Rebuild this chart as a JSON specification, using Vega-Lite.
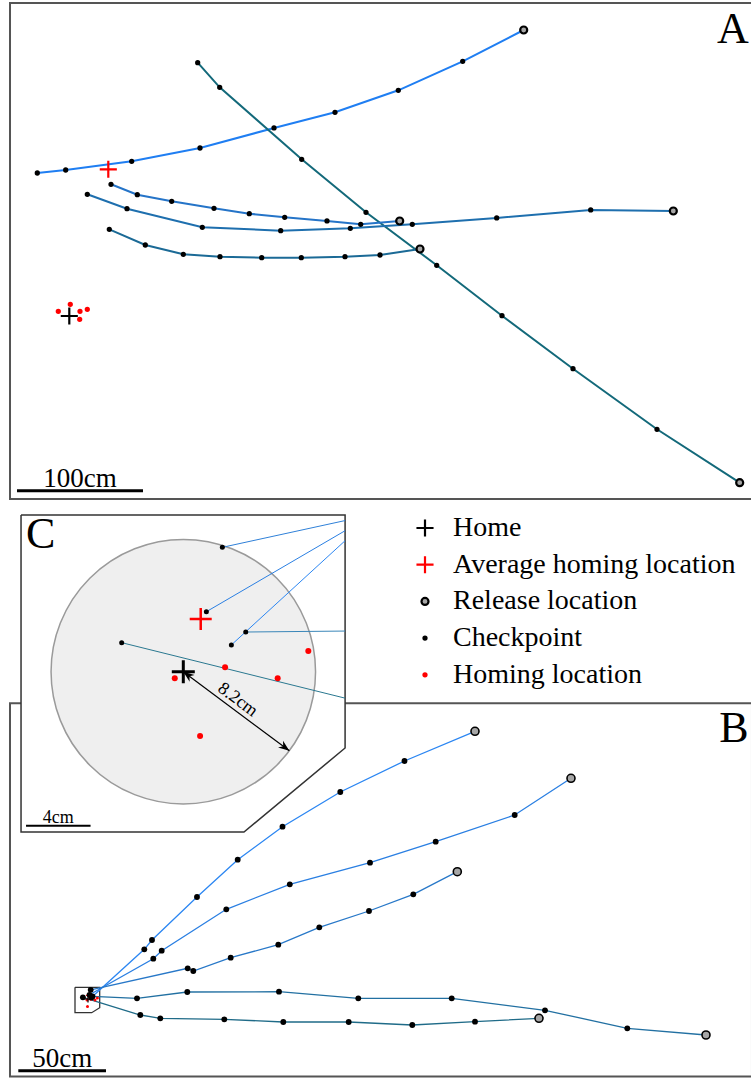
{
  "$schema": "https://vega.github.io/schema/vega-lite/v6.json",
  "width": 751,
  "height": 1078,
  "autosize": {"type": "none"},
  "padding": 0,
  "config": {
    "view": {"stroke": null},
    "text": {"font": "Liberation Serif", "color": "black"},
    "legend": {"padding": 0, "labelFont": "Liberation Serif", "labelFontSize": 28, "labelColor": "black", "labelLimit": 400, "symbolOpacity": 1}
  },
  "resolve": {"scale": {"x": "independent", "y": "independent", "color": "independent"}},
  "datasets": {
    "a_frame": [{"x": -47.06, "x2": 541.83, "y": 248.41, "y2": -145.24}],
    "a_bar": [{"x": -41.51, "x2": 58.49, "y": -138.65}],
    "a_barlabel": [{"x": 8.49, "y": -138.65, "label": "100cm"}],
    "a_letter": [{"x": 526.75, "y": 216.9, "label": "A"}],
    "a_pts": [
      {"traj": "a1", "seq": 0, "x": 360.63, "y": 226.98, "kind": "Release location"},
      {"traj": "a1", "seq": 1, "x": 312.22, "y": 202.14, "kind": "Checkpoint"},
      {"traj": "a1", "seq": 2, "x": 261.11, "y": 179.13, "kind": "Checkpoint"},
      {"traj": "a1", "seq": 3, "x": 210.87, "y": 161.67, "kind": "Checkpoint"},
      {"traj": "a1", "seq": 4, "x": 162.46, "y": 149.21, "kind": "Checkpoint"},
      {"traj": "a1", "seq": 5, "x": 103.73, "y": 133.33, "kind": "Checkpoint"},
      {"traj": "a1", "seq": 6, "x": 49.52, "y": 122.78, "kind": "Checkpoint"},
      {"traj": "a1", "seq": 7, "x": -2.86, "y": 115.87, "kind": "Checkpoint"},
      {"traj": "a1", "seq": 8, "x": -25.4, "y": 113.49, "kind": "Checkpoint"},
      {"traj": "a2", "seq": 0, "x": 532.06, "y": -132.3, "kind": "Release location"},
      {"traj": "a2", "seq": 1, "x": 466.43, "y": -89.92, "kind": "Checkpoint"},
      {"traj": "a2", "seq": 2, "x": 399.76, "y": -41.83, "kind": "Checkpoint"},
      {"traj": "a2", "seq": 3, "x": 343.41, "y": 0.24, "kind": "Checkpoint"},
      {"traj": "a2", "seq": 4, "x": 291.59, "y": 40.24, "kind": "Checkpoint"},
      {"traj": "a2", "seq": 5, "x": 235.48, "y": 82.3, "kind": "Checkpoint"},
      {"traj": "a2", "seq": 6, "x": 184.44, "y": 124.37, "kind": "Checkpoint"},
      {"traj": "a2", "seq": 7, "x": 119.37, "y": 181.51, "kind": "Checkpoint"},
      {"traj": "a2", "seq": 8, "x": 101.9, "y": 201.03, "kind": "Checkpoint"},
      {"traj": "a3", "seq": 0, "x": 262.22, "y": 75.4, "kind": "Release location"},
      {"traj": "a3", "seq": 1, "x": 231.27, "y": 72.78, "kind": "Checkpoint"},
      {"traj": "a3", "seq": 2, "x": 204.52, "y": 75.4, "kind": "Checkpoint"},
      {"traj": "a3", "seq": 3, "x": 170.95, "y": 78.33, "kind": "Checkpoint"},
      {"traj": "a3", "seq": 4, "x": 142.86, "y": 81.19, "kind": "Checkpoint"},
      {"traj": "a3", "seq": 5, "x": 114.84, "y": 85.48, "kind": "Checkpoint"},
      {"traj": "a3", "seq": 6, "x": 81.27, "y": 91.03, "kind": "Checkpoint"},
      {"traj": "a3", "seq": 7, "x": 53.97, "y": 96.27, "kind": "Checkpoint"},
      {"traj": "a3", "seq": 8, "x": 33.1, "y": 104.52, "kind": "Checkpoint"},
      {"traj": "a4", "seq": 0, "x": 479.37, "y": 83.33, "kind": "Release location"},
      {"traj": "a4", "seq": 1, "x": 413.81, "y": 84.13, "kind": "Checkpoint"},
      {"traj": "a4", "seq": 2, "x": 339.21, "y": 77.78, "kind": "Checkpoint"},
      {"traj": "a4", "seq": 3, "x": 272.22, "y": 72.78, "kind": "Checkpoint"},
      {"traj": "a4", "seq": 4, "x": 223.02, "y": 69.6, "kind": "Checkpoint"},
      {"traj": "a4", "seq": 5, "x": 167.78, "y": 67.7, "kind": "Checkpoint"},
      {"traj": "a4", "seq": 6, "x": 105.56, "y": 70.4, "kind": "Checkpoint"},
      {"traj": "a4", "seq": 7, "x": 45.79, "y": 85.16, "kind": "Checkpoint"},
      {"traj": "a4", "seq": 8, "x": 14.29, "y": 96.59, "kind": "Checkpoint"},
      {"traj": "a5", "seq": 0, "x": 278.33, "y": 53.17, "kind": "Release location"},
      {"traj": "a5", "seq": 1, "x": 246.59, "y": 48.41, "kind": "Checkpoint"},
      {"traj": "a5", "seq": 2, "x": 218.81, "y": 47.06, "kind": "Checkpoint"},
      {"traj": "a5", "seq": 3, "x": 184.13, "y": 46.27, "kind": "Checkpoint"},
      {"traj": "a5", "seq": 4, "x": 152.7, "y": 46.27, "kind": "Checkpoint"},
      {"traj": "a5", "seq": 5, "x": 119.6, "y": 47.06, "kind": "Checkpoint"},
      {"traj": "a5", "seq": 6, "x": 90.48, "y": 48.97, "kind": "Checkpoint"},
      {"traj": "a5", "seq": 7, "x": 60.32, "y": 56.35, "kind": "Checkpoint"},
      {"traj": "a5", "seq": 8, "x": 31.75, "y": 68.81, "kind": "Checkpoint"},
      {"traj": null, "seq": null, "x": 0, "y": 0, "kind": "Home"},
      {"traj": null, "seq": null, "x": 30.95, "y": 116.43, "kind": "Average homing location"},
      {"traj": null, "seq": null, "x": -8.73, "y": 3.73, "kind": "Homing location"},
      {"traj": null, "seq": null, "x": 0.79, "y": 9.29, "kind": "Homing location"},
      {"traj": null, "seq": null, "x": 8.49, "y": 3.73, "kind": "Homing location"},
      {"traj": null, "seq": null, "x": 14.29, "y": 5.32, "kind": "Homing location"},
      {"traj": null, "seq": null, "x": 8.25, "y": -2.62, "kind": "Homing location"}
    ],
    "b_frame": [{"x": -44.47, "x2": 378.56, "y": 168.59, "y2": -44.19}],
    "b_boxfill": [
      {"x": -7.41, "y": 6.67, "y2": -7.81},
      {"x": 2.11, "y": 6.67, "y2": -7.81},
      {"x": 6.67, "y": 6.67, "y2": -4.96}
    ],
    "b_box": [
      {"seq": 0, "x": -7.41, "y": 6.67},
      {"seq": 1, "x": 6.67, "y": 6.67},
      {"seq": 2, "x": 6.67, "y": -4.96},
      {"seq": 3, "x": 2.11, "y": -7.81},
      {"seq": 4, "x": -7.41, "y": -7.81},
      {"seq": 5, "x": -7.41, "y": 6.67}
    ],
    "b_bar": [{"x": -39.74, "x2": 10.26, "y": -40.88}],
    "b_barlabel": [{"x": -14.74, "y": -40.88, "label": "50cm"}],
    "b_letter": [{"x": 368.3, "y": 146.7, "label": "B"}],
    "b_pts": [
      {"traj": "b1", "seq": 0, "x": 220.64, "y": 152.62, "kind": "Release location"},
      {"traj": "b1", "seq": 1, "x": 180.44, "y": 135.69, "kind": "Checkpoint"},
      {"traj": "b1", "seq": 2, "x": 143.84, "y": 118.02, "kind": "Checkpoint"},
      {"traj": "b1", "seq": 3, "x": 110.89, "y": 98.23, "kind": "Checkpoint"},
      {"traj": "b1", "seq": 4, "x": 85.35, "y": 79.42, "kind": "Checkpoint"},
      {"traj": "b1", "seq": 5, "x": 62.14, "y": 58.15, "kind": "Checkpoint"},
      {"traj": "b1", "seq": 6, "x": 36.49, "y": 33.64, "kind": "Checkpoint"},
      {"traj": "b1", "seq": 7, "x": 32.1, "y": 28.34, "kind": "Checkpoint"},
      {"traj": "b1", "seq": 8, "x": 1.94, "y": 0.91, "kind": "Checkpoint"},
      {"traj": "b2", "seq": 0, "x": 275.37, "y": 125.83, "kind": "Release location"},
      {"traj": "b2", "seq": 1, "x": 243.27, "y": 104.9, "kind": "Checkpoint"},
      {"traj": "b2", "seq": 2, "x": 198.23, "y": 89.68, "kind": "Checkpoint"},
      {"traj": "b2", "seq": 3, "x": 160.78, "y": 77.71, "kind": "Checkpoint"},
      {"traj": "b2", "seq": 4, "x": 115.05, "y": 65.39, "kind": "Checkpoint"},
      {"traj": "b2", "seq": 5, "x": 78.85, "y": 51.14, "kind": "Checkpoint"},
      {"traj": "b2", "seq": 6, "x": 42.02, "y": 27.54, "kind": "Checkpoint"},
      {"traj": "b2", "seq": 7, "x": 37.23, "y": 22.98, "kind": "Checkpoint"},
      {"traj": "b2", "seq": 8, "x": 0.86, "y": 2.39, "kind": "Checkpoint"},
      {"traj": "b3", "seq": 0, "x": 210.55, "y": 72.58, "kind": "Release location"},
      {"traj": "b3", "seq": 1, "x": 185.46, "y": 59.69, "kind": "Checkpoint"},
      {"traj": "b3", "seq": 2, "x": 160.21, "y": 50.17, "kind": "Checkpoint"},
      {"traj": "b3", "seq": 3, "x": 131.87, "y": 40.88, "kind": "Checkpoint"},
      {"traj": "b3", "seq": 4, "x": 108.49, "y": 30.96, "kind": "Checkpoint"},
      {"traj": "b3", "seq": 5, "x": 81.36, "y": 23.55, "kind": "Checkpoint"},
      {"traj": "b3", "seq": 6, "x": 60.03, "y": 15.96, "kind": "Checkpoint"},
      {"traj": "b3", "seq": 7, "x": 56.84, "y": 17.5, "kind": "Checkpoint"},
      {"traj": "b3", "seq": 8, "x": 1.54, "y": 5.25, "kind": "Checkpoint"},
      {"traj": "b4", "seq": 0, "x": 352.34, "y": -20.52, "kind": "Release location"},
      {"traj": "b4", "seq": 1, "x": 307.47, "y": -16.7, "kind": "Checkpoint"},
      {"traj": "b4", "seq": 2, "x": 260.55, "y": -6.44, "kind": "Checkpoint"},
      {"traj": "b4", "seq": 3, "x": 207.36, "y": 0.4, "kind": "Checkpoint"},
      {"traj": "b4", "seq": 4, "x": 154.1, "y": 0.4, "kind": "Checkpoint"},
      {"traj": "b4", "seq": 5, "x": 108.89, "y": 4.16, "kind": "Checkpoint"},
      {"traj": "b4", "seq": 6, "x": 56.61, "y": 3.99, "kind": "Checkpoint"},
      {"traj": "b4", "seq": 7, "x": 27.94, "y": 0.4, "kind": "Checkpoint"},
      {"traj": "b4", "seq": 8, "x": 2.57, "y": 1.48, "kind": "Checkpoint"},
      {"traj": "b5", "seq": 0, "x": 257.13, "y": -11.0, "kind": "Release location"},
      {"traj": "b5", "seq": 1, "x": 220.64, "y": -12.94, "kind": "Checkpoint"},
      {"traj": "b5", "seq": 2, "x": 184.89, "y": -14.82, "kind": "Checkpoint"},
      {"traj": "b5", "seq": 3, "x": 148.63, "y": -13.11, "kind": "Checkpoint"},
      {"traj": "b5", "seq": 4, "x": 111.35, "y": -13.11, "kind": "Checkpoint"},
      {"traj": "b5", "seq": 5, "x": 77.71, "y": -11.57, "kind": "Checkpoint"},
      {"traj": "b5", "seq": 6, "x": 41.22, "y": -11.0, "kind": "Checkpoint"},
      {"traj": "b5", "seq": 7, "x": 29.82, "y": -9.12, "kind": "Checkpoint"},
      {"traj": "b5", "seq": 8, "x": -2.91, "y": 0.97, "kind": "Checkpoint"},
      {"traj": null, "seq": null, "x": 0, "y": 0, "kind": "Home"},
      {"traj": null, "seq": null, "x": 0.57, "y": 2.05, "kind": "Average homing location"},
      {"traj": null, "seq": null, "x": -0.57, "y": -0.57, "kind": "Homing location"},
      {"traj": null, "seq": null, "x": 1.65, "y": -0.11, "kind": "Homing location"},
      {"traj": null, "seq": null, "x": 3.99, "y": -0.57, "kind": "Homing location"},
      {"traj": null, "seq": null, "x": 5.36, "y": 0.63, "kind": "Homing location"},
      {"traj": null, "seq": null, "x": -0.29, "y": -4.28, "kind": "Homing location"}
    ],
    "c_fill": [
      {"x": -10.06, "y": 9.72, "y2": -9.94},
      {"x": 3.76, "y": 9.72, "y2": -9.94},
      {"x": 10.03, "y": 9.72, "y2": -4.73}
    ],
    "c_outline": [
      {"seq": 0, "x": -10.06, "y": 9.72},
      {"seq": 1, "x": 10.03, "y": 9.72},
      {"seq": 2, "x": 10.03, "y": -4.73},
      {"seq": 3, "x": 3.76, "y": -9.94},
      {"seq": 4, "x": -10.06, "y": -9.94},
      {"seq": 5, "x": -10.06, "y": 9.72}
    ],
    "c_circle": [{"x": 0, "y": 0, "radius_cm": 8.2}],
    "c_arrow": [{"x": 0, "y": 0, "x2": 6.575, "y2": -4.9}],
    "c_head_end": [{"x": 6.575, "y": -4.9}],
    "c_head_start": [{"x": 0, "y": 0}],
    "c_arrowlabel": [{"x": 3.0, "y": -2.24, "label": "8.2cm"}],
    "c_bar": [{"x": -9.75, "x2": -5.75, "y": -9.55}],
    "c_barlabel": [{"x": -7.75, "y": -9.55, "label": "4cm"}],
    "c_letter": [{"x": -8.85, "y": 7.65, "label": "C"}],
    "c_pts": [
      {"traj": "c1", "seq": 0, "x": 10.03, "y": 8.12, "kind": "Edge"},
      {"traj": "c1", "seq": 1, "x": 2.98, "y": 1.66, "kind": "Checkpoint"},
      {"traj": "c2", "seq": 0, "x": 10.03, "y": 8.74, "kind": "Edge"},
      {"traj": "c2", "seq": 1, "x": 1.43, "y": 3.72, "kind": "Checkpoint"},
      {"traj": "c3", "seq": 0, "x": 10.03, "y": 9.37, "kind": "Edge"},
      {"traj": "c3", "seq": 1, "x": 2.42, "y": 7.71, "kind": "Checkpoint"},
      {"traj": "c4", "seq": 0, "x": 10.03, "y": 2.52, "kind": "Edge"},
      {"traj": "c4", "seq": 1, "x": 3.87, "y": 2.46, "kind": "Checkpoint"},
      {"traj": "c5", "seq": 0, "x": 10.03, "y": -1.64, "kind": "Edge"},
      {"traj": "c5", "seq": 1, "x": -3.82, "y": 1.8, "kind": "Checkpoint"},
      {"traj": null, "seq": null, "x": 0, "y": 0, "kind": "Home"},
      {"traj": null, "seq": null, "x": 1.08, "y": 3.27, "kind": "Average homing location"},
      {"traj": null, "seq": null, "x": -0.53, "y": -0.41, "kind": "Homing location"},
      {"traj": null, "seq": null, "x": 2.59, "y": 0.27, "kind": "Homing location"},
      {"traj": null, "seq": null, "x": 5.85, "y": -0.41, "kind": "Homing location"},
      {"traj": null, "seq": null, "x": 7.75, "y": 1.28, "kind": "Homing location"},
      {"traj": null, "seq": null, "x": 1.04, "y": -3.99, "kind": "Homing location"}
    ]
  },
  "layer": [
    {
      "encoding": {
        "x": {"field": "x", "type": "quantitative", "scale": {"domain": [-55.0, 541.03], "nice": false, "zero": false}, "axis": null},
        "y": {"field": "y", "type": "quantitative", "scale": {"domain": [-604.76, 250.79], "nice": false, "zero": false}, "axis": null}
      },
      "layer": [
        {"data": {"name": "a_frame"}, "mark": {"type": "rect", "filled": false, "stroke": "#555555", "strokeWidth": 2}, "encoding": {"x2": {"field": "x2"}, "y2": {"field": "y2"}}},
        {"data": {"name": "a_pts"}, "transform": [{"filter": "datum.traj != null"}], "mark": {"type": "line", "strokeWidth": 2}, "encoding": {"color": {"field": "traj", "type": "nominal", "scale": {"domain": ["a1", "a2", "a3", "a4", "a5"], "range": ["#1f7ef2", "#13697a", "#2574c8", "#1e6fae", "#1b6a96"]}, "legend": null}, "order": {"field": "seq", "type": "quantitative"}}},
        {"data": {"name": "a_pts"}, "mark": {"type": "point", "filled": true, "size": 324, "strokeWidth": 2.2, "opacity": 1},
          "encoding": {
            "shape": {"field": "kind", "type": "nominal", "scale": {"domain": ["Home", "Average homing location", "Release location", "Checkpoint", "Homing location"], "range": ["M-0.95,0H0.95M0,-0.95V0.95", "M-0.95,0H0.95M0,-0.95V0.95", "M-0.39,0A0.39,0.39,0,1,0,0.39,0A0.39,0.39,0,1,0,-0.39,0Z", "M-0.17,0A0.17,0.17,0,1,0,0.17,0A0.17,0.17,0,1,0,-0.17,0Z", "M-0.17,0A0.17,0.17,0,1,0,0.17,0A0.17,0.17,0,1,0,-0.17,0Z"]}, "legend": {"title": null, "orient": "none", "legendX": 411, "legendY": 514, "labelOffset": 14, "rowPadding": 8.7, "symbolSize": 324, "symbolStrokeWidth": 2.2}},
            "fill": {"field": "kind", "type": "nominal", "scale": {"domain": ["Home", "Average homing location", "Release location", "Checkpoint", "Homing location"], "range": ["black", "#ff0000", "#a6a6a6", "black", "#ff0000"]}, "legend": {"title": null, "orient": "none", "legendX": 411, "legendY": 514, "labelOffset": 14, "rowPadding": 8.7, "symbolSize": 324, "symbolStrokeWidth": 2.2}},
            "stroke": {"field": "kind", "type": "nominal", "scale": {"domain": ["Home", "Average homing location", "Release location", "Checkpoint", "Homing location"], "range": ["black", "#ff0000", "black", "black", "#ff0000"]}, "legend": {"title": null, "orient": "none", "legendX": 411, "legendY": 514, "labelOffset": 14, "rowPadding": 8.7, "symbolSize": 324, "symbolStrokeWidth": 2.2}}
          }
        },
        {"data": {"name": "a_bar"}, "mark": {"type": "rule", "color": "black", "strokeWidth": 3}, "encoding": {"x2": {"field": "x2"}}},
        {"data": {"name": "a_barlabel"}, "mark": {"type": "text", "fontSize": 27, "align": "center", "baseline": "alphabetic", "dy": -4}, "encoding": {"text": {"field": "label"}}},
        {"data": {"name": "a_letter"}, "mark": {"type": "text", "fontSize": 44, "align": "center", "baseline": "alphabetic"}, "encoding": {"text": {"field": "label"}}}
      ]
    },
    {
      "encoding": {
        "x": {"field": "x", "type": "quantitative", "scale": {"domain": [-50.17, 378.0], "nice": false, "zero": false}, "axis": null},
        "y": {"field": "y", "type": "quantitative", "scale": {"domain": [-45.04, 569.56], "nice": false, "zero": false}, "axis": null}
      },
      "layer": [
        {"data": {"name": "b_frame"}, "mark": {"type": "rect", "filled": false, "stroke": "#555555", "strokeWidth": 2}, "encoding": {"x2": {"field": "x2"}, "y2": {"field": "y2"}}},
        {"data": {"name": "b_boxfill"}, "mark": {"type": "area", "color": "white", "opacity": 1}, "encoding": {"y2": {"field": "y2"}}},
        {"data": {"name": "b_box"}, "mark": {"type": "line", "color": "#333333", "strokeWidth": 1.3}, "encoding": {"order": {"field": "seq", "type": "quantitative"}}},
        {"data": {"name": "b_pts"}, "transform": [{"filter": "datum.traj != null"}], "mark": {"type": "line", "strokeWidth": 1.3}, "encoding": {"color": {"field": "traj", "type": "nominal", "scale": {"domain": ["b1", "b2", "b3", "b4", "b5"], "range": ["#2b86f2", "#2a7fe2", "#2878c8", "#2270a2", "#1f6b88"]}, "legend": null}, "order": {"field": "seq", "type": "quantitative"}}},
        {"data": {"name": "b_pts"}, "transform": [{"filter": "datum.kind == 'Homing location'"}], "mark": {"type": "point", "shape": "circle", "filled": true, "color": "#ff0000", "size": 9, "opacity": 1}},
        {"data": {"name": "b_pts"}, "transform": [{"filter": "datum.kind == 'Home'"}], "mark": {"type": "point", "shape": "M-1,0H1M0,-1V1", "filled": false, "color": "black", "strokeWidth": 1.2, "size": 49, "opacity": 1}},
        {"data": {"name": "b_pts"}, "transform": [{"filter": "datum.kind == 'Average homing location'"}], "mark": {"type": "point", "shape": "M-1,0H1M0,-1V1", "filled": false, "color": "#ff0000", "strokeWidth": 1.2, "size": 36, "opacity": 1}},
        {"data": {"name": "b_pts"}, "transform": [{"filter": "datum.kind == 'Checkpoint'"}], "mark": {"type": "point", "shape": "circle", "filled": true, "color": "black", "size": 34, "opacity": 1}},
        {"data": {"name": "b_pts"}, "transform": [{"filter": "datum.kind == 'Release location'"}], "mark": {"type": "point", "shape": "circle", "filled": true, "fill": "#a6a6a6", "stroke": "black", "strokeWidth": 1.6, "size": 64, "opacity": 1}},
        {"data": {"name": "b_bar"}, "mark": {"type": "rule", "color": "black", "strokeWidth": 3}, "encoding": {"x2": {"field": "x2"}}},
        {"data": {"name": "b_barlabel"}, "mark": {"type": "text", "fontSize": 27, "align": "center", "baseline": "alphabetic", "dy": -4}, "encoding": {"text": {"field": "label"}}},
        {"data": {"name": "b_letter"}, "mark": {"type": "text", "fontSize": 44, "align": "center", "baseline": "alphabetic"}, "encoding": {"text": {"field": "label"}}}
      ]
    },
    {
      "encoding": {
        "x": {"field": "x", "type": "quantitative", "scale": {"domain": [-11.364, 35.195], "nice": false, "zero": false}, "axis": null},
        "y": {"field": "y", "type": "quantitative", "scale": {"domain": [-25.189, 41.643], "nice": false, "zero": false}, "axis": null}
      },
      "layer": [
        {"data": {"name": "c_fill"}, "mark": {"type": "area", "color": "white", "opacity": 1}, "encoding": {"y2": {"field": "y2"}}},
        {"data": {"name": "c_outline"}, "mark": {"type": "line", "color": "#333333", "strokeWidth": 1.5}, "encoding": {"order": {"field": "seq", "type": "quantitative"}}},
        {"data": {"name": "c_circle"}, "mark": {"type": "point", "shape": "circle", "filled": true, "fill": "#efefef", "stroke": "#9a9a9a", "strokeWidth": 1.5, "size": 69960, "opacity": 1}},
        {"data": {"name": "c_pts"}, "transform": [{"filter": "datum.traj != null"}], "mark": {"type": "line", "strokeWidth": 1}, "encoding": {"color": {"field": "traj", "type": "nominal", "scale": {"domain": ["c1", "c2", "c3", "c4", "c5"], "range": ["#2b86f2", "#2a7fe2", "#2f80d8", "#3a86b8", "#2a7890"]}, "legend": null}, "order": {"field": "seq", "type": "quantitative"}}},
        {"data": {"name": "c_arrow"}, "mark": {"type": "rule", "color": "black", "strokeWidth": 1.2}, "encoding": {"x2": {"field": "x2"}, "y2": {"field": "y2"}}},
        {"data": {"name": "c_head_end"}, "mark": {"type": "point", "shape": "M0,0L-1,-0.38L-0.7,0L-1,0.38Z", "filled": true, "color": "black", "size": 484, "angle": 36.7, "opacity": 1}},
        {"data": {"name": "c_head_start"}, "mark": {"type": "point", "shape": "M0,0L-1,-0.38L-0.7,0L-1,0.38Z", "filled": true, "color": "black", "size": 484, "angle": 216.7, "opacity": 1}},
        {"data": {"name": "c_arrowlabel"}, "mark": {"type": "text", "fontSize": 18, "align": "center", "baseline": "bottom", "angle": 36.7, "dy": -1}, "encoding": {"text": {"field": "label"}}},
        {"data": {"name": "c_pts"}, "transform": [{"filter": "datum.kind == 'Checkpoint'"}], "mark": {"type": "point", "shape": "circle", "filled": true, "color": "black", "size": 25, "opacity": 1}},
        {"data": {"name": "c_pts"}, "transform": [{"filter": "datum.kind == 'Homing location'"}], "mark": {"type": "point", "shape": "circle", "filled": true, "color": "#ff0000", "size": 36, "opacity": 1}},
        {"data": {"name": "c_pts"}, "transform": [{"filter": "datum.kind == 'Home'"}], "mark": {"type": "point", "shape": "M-1,0H1M0,-1V1", "filled": false, "color": "black", "strokeWidth": 3, "size": 529, "opacity": 1}},
        {"data": {"name": "c_pts"}, "transform": [{"filter": "datum.kind == 'Average homing location'"}], "mark": {"type": "point", "shape": "M-1,0H1M0,-1V1", "filled": false, "color": "#ff0000", "strokeWidth": 2.5, "size": 484, "opacity": 1}},
        {"data": {"name": "c_bar"}, "mark": {"type": "rule", "color": "black", "strokeWidth": 2}, "encoding": {"x2": {"field": "x2"}}},
        {"data": {"name": "c_barlabel"}, "mark": {"type": "text", "fontSize": 18, "align": "center", "baseline": "alphabetic", "dy": -3}, "encoding": {"text": {"field": "label"}}},
        {"data": {"name": "c_letter"}, "mark": {"type": "text", "fontSize": 44, "align": "center", "baseline": "alphabetic"}, "encoding": {"text": {"field": "label"}}}
      ]
    }
  ]
}
